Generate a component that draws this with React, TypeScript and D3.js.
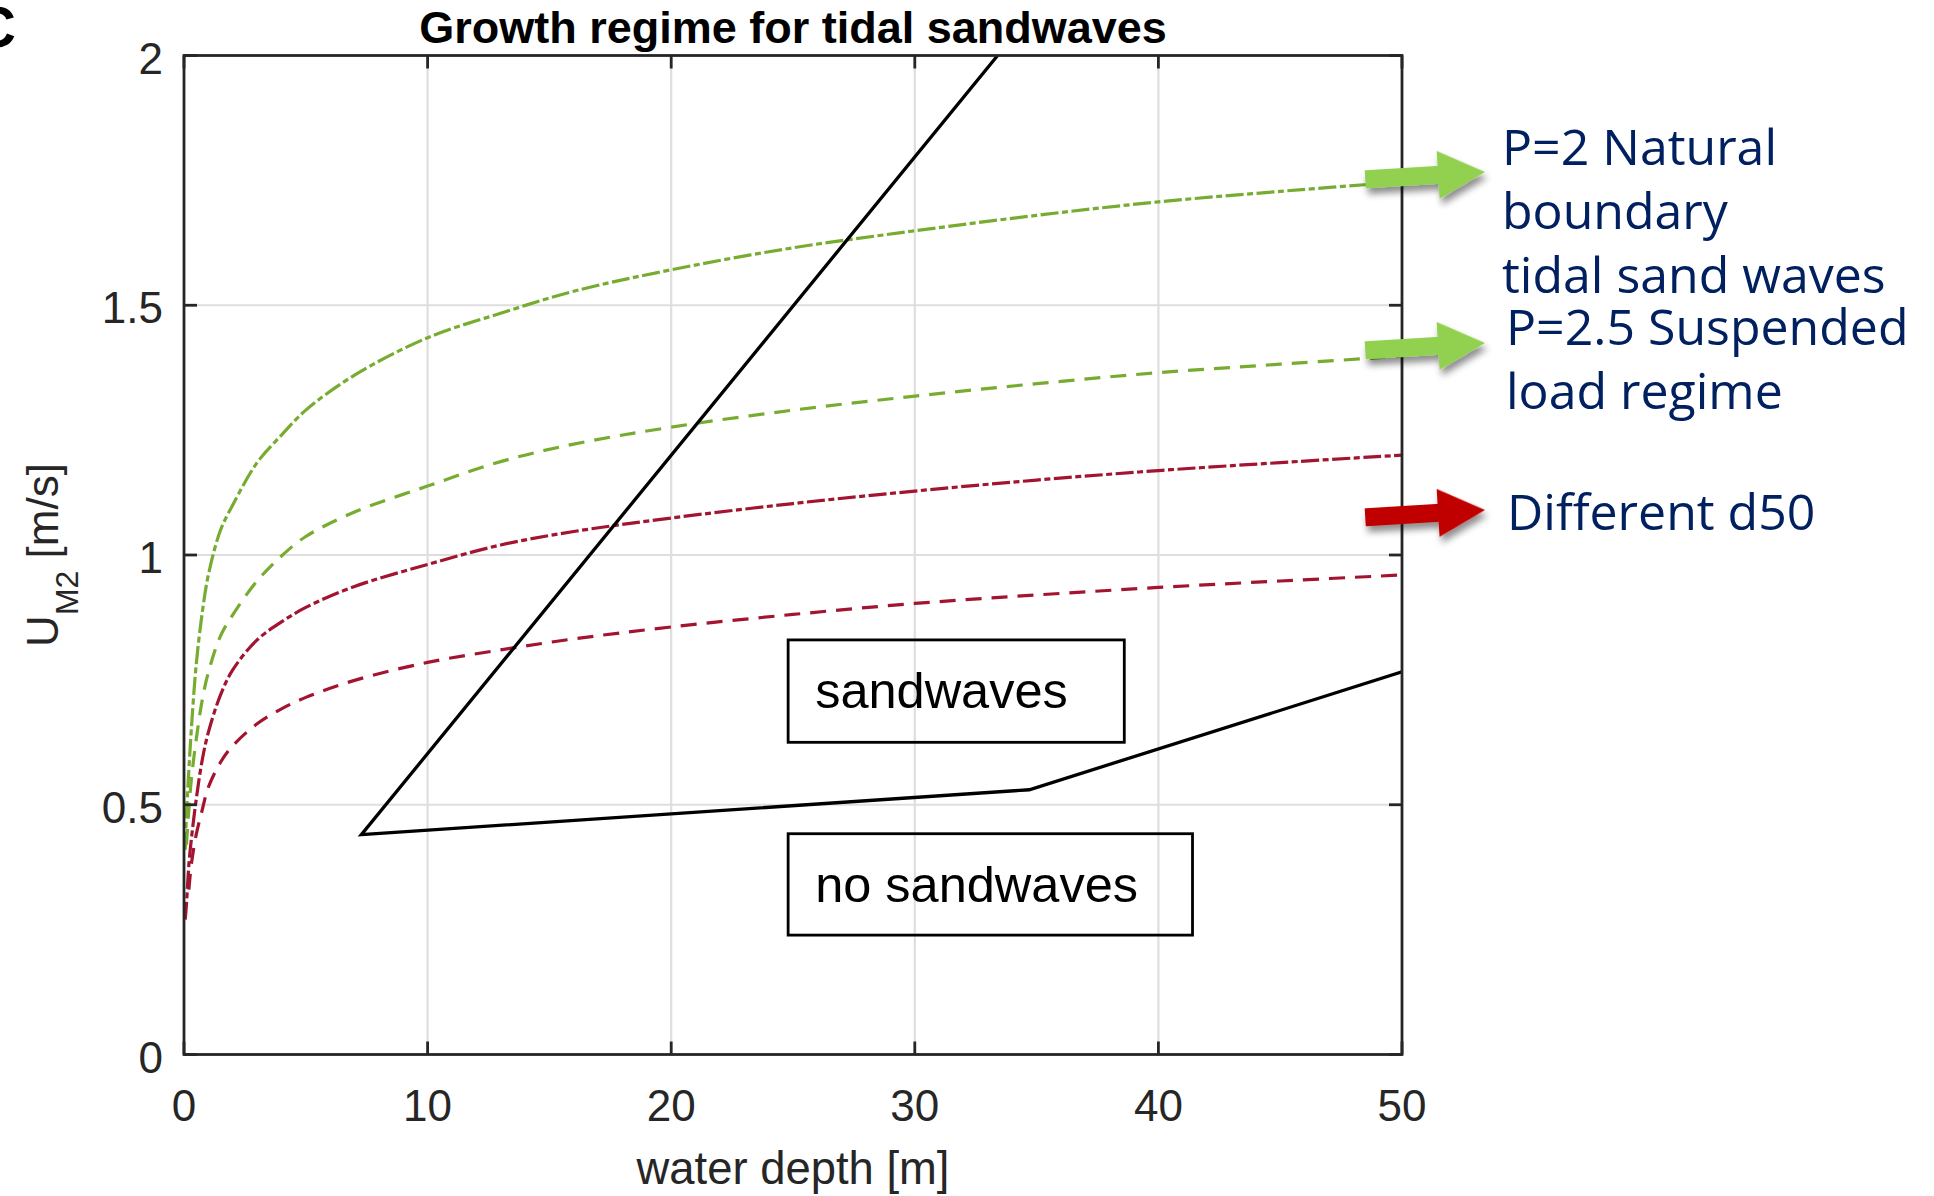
import React from 'react';
import * as d3 from 'd3';

const W = 1934;
const H = 1196;

// Axis ticks
const depthTicks = [0, 10, 20, 30, 40, 50];
const uTicks = [0, 0.5, 1, 1.5, 2];

// Series: water depth [m] and U_M2 [m/s]
const greenDashDotDepth = [0.05, 0.1, 0.2, 0.3, 0.5, 0.75, 1, 1.5, 2, 3, 4, 5, 7, 10, 13, 16, 20, 25, 30, 35, 40, 45, 50];
const greenDashDotU = [0.41, 0.48, 0.57, 0.65, 0.78, 0.885, 0.96, 1.05, 1.10, 1.185, 1.24, 1.29, 1.36, 1.435, 1.484, 1.528, 1.571, 1.615, 1.649, 1.68, 1.707, 1.728, 1.747];

const greenDashDepth = [0.1, 0.2, 0.3, 0.5, 0.75, 1, 1.5, 2, 3, 4, 5, 7, 10, 13, 16, 20, 25, 30, 35, 40, 45, 50];
const greenDashU = [0.42, 0.49, 0.55, 0.63, 0.71, 0.765, 0.838, 0.88, 0.948, 0.998, 1.037, 1.086, 1.138, 1.187, 1.222, 1.256, 1.29, 1.318, 1.343, 1.365, 1.382, 1.398];

const redDashDotDepth = [0.05, 0.1, 0.2, 0.3, 0.5, 0.75, 1, 1.5, 2, 3, 4, 5, 7, 10, 13, 16, 20, 25, 30, 35, 40, 45, 50];
const redDashDotU = [0.27, 0.30, 0.38, 0.43, 0.51, 0.59, 0.645, 0.72, 0.77, 0.83, 0.866, 0.895, 0.937, 0.981, 1.02, 1.047, 1.074, 1.103, 1.128, 1.15, 1.169, 1.185, 1.2];

const redDashDepth = [0.2, 0.3, 0.5, 0.75, 1, 1.5, 2, 3, 4, 5, 7, 10, 13, 16, 20, 25, 30, 35, 40, 45, 50];
const redDashU = [0.33, 0.38, 0.44, 0.49, 0.535, 0.585, 0.618, 0.662, 0.692, 0.715, 0.749, 0.785, 0.81, 0.832, 0.856, 0.881, 0.903, 0.92, 0.935, 0.948, 0.96];

// Regime boundary (black polyline)
const boundaryDepth = [33.4, 7.28, 34.7, 50];
const boundaryU = [2.0, 0.44, 0.53, 0.766];

// Region label boxes (data coords)
const boxLabels = ['sandwaves', 'no sandwaves'];
const boxX0 = [24.8, 24.8];
const boxX1 = [38.6, 41.4];
const boxY0 = [0.625, 0.239];
const boxY1 = [0.83, 0.442];
const boxTextY = [0.694, 0.3055];

// Right-hand annotations
const annoLines = [
  ['P=2 Natural', 'boundary', 'tidal sand waves'],
  ['P=2.5 Suspended', 'load regime'],
  ['Different d50'],
];
const annoX = [1502, 1506, 1507];
const annoY0 = [165, 345, 530];
const arrowTipY = [172, 343, 510];
const arrowColors = ['#92D050', '#92D050', '#C00000'];

const GREEN = '#77AC30';
const RED = '#A2142F';
const AX = '#262626';

const series = [
  { depth: greenDashDotDepth, u: greenDashDotU, color: GREEN, dash: '18,3.5,6,3.5' },
  { depth: greenDashDepth, u: greenDashU, color: GREEN, dash: '16,10' },
  { depth: redDashDotDepth, u: redDashDotU, color: RED, dash: '18,3.5,6,3.5' },
  { depth: redDashDepth, u: redDashU, color: RED, dash: '16,10' },
];

export default function App() {
  const left = 184, right = 1402, top = 55.5, bottom = 1054.5;
  const x = d3.scaleLinear().domain([0, 50]).range([left, right]);
  const y = d3.scaleLinear().domain([0, 2]).range([bottom, top]);
  const line = d3.line<[number, number]>().x(d => x(d[0])).y(d => y(d[1])).curve(d3.curveCatmullRom.alpha(0.5));
  const straight = d3.line<[number, number]>().x(d => x(d[0])).y(d => y(d[1]));
  const tickLen = 13;
  const font = 'Liberation Sans, Arial, Helvetica, sans-serif';

  const arrowPath = 'M-120,-9 L-47,-9 L-47,-24 L0,0 L-47,24 L-47,9 L-120,9 Z';

  return (
    <svg width={W} height={H} style={{ position: 'absolute', left: 0, top: 0, background: '#fff' }}>
      <defs>
        <clipPath id="plotclip">
          <rect x={left} y={top} width={right - left} height={bottom - top} />
        </clipPath>
        <filter id="shadow" x="-30%" y="-50%" width="160%" height="220%">
          <feDropShadow dx="2" dy="6" stdDeviation="3.5" floodColor="#000" floodOpacity="0.45" />
        </filter>
      </defs>
      <rect x={0} y={0} width={W} height={H} fill="#fff" />
      {/* panel letter */}
      <text x={-26} y={47} fontFamily={font} fontWeight="bold" fontSize={58} fill="#000">C</text>
      {/* title */}
      <text x={(left + right) / 2} y={43} textAnchor="middle" fontFamily={font} fontWeight="bold" fontSize={45} fill="#000">
        Growth regime for tidal sandwaves
      </text>
      {/* grid */}
      <g stroke="#dedede" strokeWidth={2.2}>
        {depthTicks.slice(1, -1).map(t => (
          <line key={'gx' + t} x1={x(t)} x2={x(t)} y1={top} y2={bottom} />
        ))}
        {uTicks.slice(1, -1).map(t => (
          <line key={'gy' + t} x1={left} x2={right} y1={y(t)} y2={y(t)} />
        ))}
      </g>
      {/* curves */}
      <g clipPath="url(#plotclip)" fill="none">
        {series.map((s, i) => (
          <path key={i} d={line(s.depth.map((d, j) => [d, s.u[j]] as [number, number])) || ''}
            stroke={s.color} strokeWidth={3.2} strokeDasharray={s.dash} />
        ))}
        <path d={straight(boundaryDepth.map((d, j) => [d, boundaryU[j]] as [number, number])) || ''}
          stroke="#000" strokeWidth={3.3} strokeLinejoin="miter" />
      </g>
      {/* region boxes */}
      {boxLabels.map((lab, i) => (
        <g key={lab}>
          <rect x={x(boxX0[i])} y={y(boxY1[i])} width={x(boxX1[i]) - x(boxX0[i])} height={y(boxY0[i]) - y(boxY1[i])}
            fill="none" stroke="#000" strokeWidth={2.8} />
          <text x={x(boxX0[i]) + 27} y={y(boxTextY[i])} fontFamily={font} fontSize={50.5} fill="#000">{lab}</text>
        </g>
      ))}
      {/* axes box and ticks */}
      <g stroke={AX} strokeWidth={2.8} fill="none">
        <rect x={left} y={top} width={right - left} height={bottom - top} />
        {depthTicks.map(t => (
          <g key={'tx' + t}>
            <line x1={x(t)} x2={x(t)} y1={bottom} y2={bottom - tickLen} />
            <line x1={x(t)} x2={x(t)} y1={top} y2={top + tickLen} />
          </g>
        ))}
        {uTicks.map(t => (
          <g key={'ty' + t}>
            <line x1={left} x2={left + tickLen} y1={y(t)} y2={y(t)} />
            <line x1={right} x2={right - tickLen} y1={y(t)} y2={y(t)} />
          </g>
        ))}
      </g>
      {/* tick labels */}
      <g fontFamily={font} fontSize={44} fill={AX}>
        {depthTicks.map(t => (
          <text key={'lx' + t} x={x(t)} y={1121} textAnchor="middle">{d3.format('d')(t)}</text>
        ))}
        {uTicks.map(t => (
          <text key={'ly' + t} x={163} y={y(t) + 18} textAnchor="end">{String(t)}</text>
        ))}
      </g>
      {/* axis labels */}
      <text x={(left + right) / 2} y={1184} textAnchor="middle" fontFamily={font} fontSize={45.4} fill={AX}>water depth [m]</text>
      <text transform={`translate(58,${(top + bottom) / 2}) rotate(-90)`} textAnchor="middle" fontFamily={font} fontSize={44} fill={AX}>
        U<tspan fontSize={32} dy={20}>M2</tspan><tspan dy={-20}> [m/s]</tspan>
      </text>
      {/* arrows */}
      {arrowTipY.map((ty, i) => (
        <path key={'ar' + i} d={arrowPath} transform={`translate(1485,${ty}) rotate(-3.5)`}
          fill={arrowColors[i]} filter="url(#shadow)" />
      ))}
      {/* annotations */}
      {annoLines.map((lines, i) => (
        <text key={'an' + i} fontFamily="'Open Sans', 'Noto Sans', sans-serif" fontSize={50} fill="#002060">
          {lines.map((l, j) => (
            <tspan key={j} x={annoX[i]} y={annoY0[i] + j * 63.8}>{l}</tspan>
          ))}
        </text>
      ))}
    </svg>
  );
}
